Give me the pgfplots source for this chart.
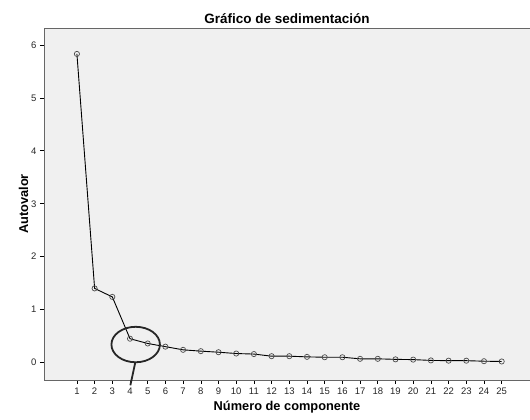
\documentclass[border=0pt]{standalone}
\usepackage{pgfplots}
\pgfplotsset{compat=1.18}
\usepackage{fontspec}
\setmainfont{Liberation Sans}
\definecolor{bg}{HTML}{F0F0F0}
\begin{document}
\begin{tikzpicture}
\useasboundingbox (-44pt,-40pt) rectangle (486pt,380pt);
\begin{axis}[
  scale only axis,
  width=486pt, height=352pt,
  xmin=-0.86, xmax=26.6,
  ymin=-0.33, ymax=6.32,
  axis background/.style={fill=bg},
  axis line style={black!60, line width=0.8pt},
  xtick={1,...,25},
  ytick={0,1,2,3,4,5,6},
  tick align=outside,
  xtick pos=bottom, ytick pos=left,
  major tick length=4pt,
  tick style={black, line width=0.6pt},
  ticklabel style={font=\fontsize{9.5}{10}\selectfont, text=black!85},
  /pgf/number format/assume math mode=true,
  title={\textbf{Gráfico de sedimentación}},
  title style={font=\fontsize{13.5}{14}\selectfont, yshift=-5pt},
  xlabel={\textbf{Número de componente}},
  ylabel={\textbf{Autovalor}},
  label style={font=\fontsize{12.8}{13}\selectfont},
  xlabel style={yshift=0pt},
  ylabel style={yshift=-4pt},
  clip=false,
]
\addplot[black, line width=0.9pt, mark=o, mark size=2.6pt,
  mark options={draw=black!70, line width=0.7pt}] coordinates {
(1,5.83) (2,1.40) (3,1.24) (4,0.45) (5,0.36) (6,0.30) (7,0.24) (8,0.215)
(9,0.195) (10,0.17) (11,0.16) (12,0.12) (13,0.12) (14,0.107) (15,0.10)
(16,0.10) (17,0.07) (18,0.07) (19,0.06) (20,0.055) (21,0.04) (22,0.035)
(23,0.035) (24,0.025) (25,0.02)
};
\draw[black!85, line width=1.8pt] (axis cs:4.32,0.34) ellipse [x radius=1.37, y radius=0.335];
\draw[black!85, line width=1.8pt] (axis cs:4.30,0.005) -- (axis cs:4.02,-0.43);
\end{axis}
\end{tikzpicture}
\end{document}
